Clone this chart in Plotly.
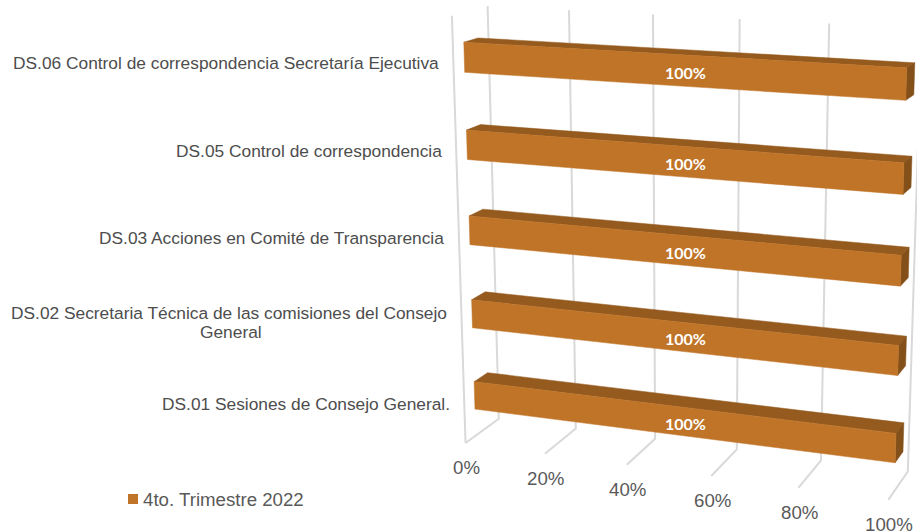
import numpy as np
import plotly.graph_objects as go

# ---- data ----
categories = [
    "DS.01 Sesiones de Consejo General.",
    "DS.02 Secretaria Técnica de las comisiones del Consejo<br>General",
    "DS.03 Acciones en Comité de Transparencia",
    "DS.05 Control de correspondencia",
    "DS.06 Control de correspondencia Secretaría Ejecutiva",
]
values = [100, 100, 100, 100, 100]
ticks = [0, 20, 40, 60, 80, 100]
tick_labels = ["0%", "20%", "40%", "60%", "80%", "100%"]
series_name = "4to. Trimestre 2022"

# ---- style / layout ----
FRONT, TOP, SIDE = "#C07428", "#955A1E", "#84501A"
GRID = "#D9D9D9"
TEXT = "#595959"
LABEL = "#4D4D4D"
FONT = "Liberation Sans"
GAP = 0.33
Z_FRONT, Z_BACK = 0.3, 0.7
LABEL_PITCH = 19       # px between the lines of a wrapped category label
WRAP_HALF_WIDTH = 218  # half the width of a full wrapped first line

# Camera: a single projective map from (percent, category slot, depth) to the page,
# calibrated against where the reference's box and bars sit.
CAMERA = [
    ((0, 0, 0), (465, 443)), ((0, 0, 1), (499, 418)),
    ((100, 0, 0), (888, 500)), ((100, 0, 1), (908, 473)),
    ((0, 5, 1), (487, 6)), ((100, 5, 1), (921, 28)), ((0, 5, 0), (452, 15)),
    ((0, 4.67, .3), (464, 42)), ((0, 4.33, .3), (465, 73.5)),
    ((100, 4.67, .3), (907, 67)), ((100, 4.33, .3), (906, 101.5)),
    ((0, 4.67, .7), (478, 38)), ((100, 4.67, .7), (915, 63)),
    ((0, .67, .3), (474, 382)), ((0, .33, .3), (475, 410)),
    ((100, .67, .3), (896, 432)), ((100, .33, .3), (895, 463)),
    ((0, .67, .7), (488, 372)), ((100, .67, .7), (904, 422)),
]


def fit_camera(pairs):
    A, b = [], []
    for (x, y, z), (u, v) in pairs:
        A.append([x, y, z, 1, 0, 0, 0, 0, -u * x, -u * y, -u * z])
        b.append(u)
        A.append([0, 0, 0, 0, x, y, z, 1, -v * x, -v * y, -v * z])
        b.append(v)
    p = np.linalg.lstsq(np.array(A, float), np.array(b, float), rcond=None)[0]
    return np.append(p, 1).reshape(3, 4)


P = fit_camera(CAMERA)


def project(x, y, z):
    u, v, w = P @ np.array([x, y, z, 1.0])
    return u / w, v / w


def poly(points, color, name=None):
    xy = [project(*p) for p in points]
    xs, ys = zip(*xy)
    return go.Scatter(x=list(xs) + [xs[0]], y=list(ys) + [ys[0]], mode="lines", fill="toself",
                      fillcolor=color, line=dict(color=color, width=0.5), hoverinfo="skip",
                      showlegend=False)


def grid_line(points):
    xs, ys = zip(*[project(*p) for p in points])
    return go.Scatter(x=xs, y=ys, mode="lines", line=dict(color=GRID, width=2),
                      hoverinfo="skip", showlegend=False)


fig = go.Figure()
n = len(categories)

# gridlines: floor + back wall, and the left wall's front edge
for t in ticks:
    fig.add_trace(grid_line([(t, 0, 0), (t, 0, 1), (t, n, 1)]))
fig.add_trace(grid_line([(0, 0, 0), (0, n, 0)]))

# bars
annotations = []
for i, (cat, val) in enumerate(zip(categories, values)):
    y0, y1 = i + GAP, i + 1 - GAP
    fig.add_trace(poly([(0, y1, Z_FRONT), (val, y1, Z_FRONT), (val, y1, Z_BACK), (0, y1, Z_BACK)], TOP))
    fig.add_trace(poly([(val, y0, Z_FRONT), (val, y1, Z_FRONT), (val, y1, Z_BACK), (val, y0, Z_BACK)], SIDE))
    fig.add_trace(poly([(0, y0, Z_FRONT), (val, y0, Z_FRONT), (val, y1, Z_FRONT), (0, y1, Z_FRONT)], FRONT))
    lx, ly = project(val * 0.5, i + 0.5, Z_FRONT)
    annotations.append(dict(x=lx + 9, y=ly + 2.5, text=f"{val}%", showarrow=False, xanchor="center", yanchor="middle",
                            font=dict(family="Lato", size=16, color="white", weight="bold")))
    cx, cy = project(0, i + 0.5, 0)
    right = cx - 12.5
    lines = cat.split("<br>")
    top_y = cy + 2 - (len(lines) - 1) * LABEL_PITCH / 2
    for k, line in enumerate(lines):
        annotations.append(dict(x=right - WRAP_HALF_WIDTH if k else right, y=top_y + k * LABEL_PITCH, text=line,
                                showarrow=False, xanchor="center" if k else "right", yanchor="middle",
                                font=dict(family=FONT, size=17.33, color=LABEL)))

# value-axis labels
for t, lab in zip(ticks, tick_labels):
    tx, ty = project(t, 0, 0)
    annotations.append(dict(x=tx + 1, y=ty + 24.7, text=lab, showarrow=False, xanchor="center", yanchor="middle",
                            font=dict(family=FONT, size=18.67, color=TEXT)))

# legend entry: a swatch plus its text
fig.add_trace(go.Scatter(x=[133], y=[499], mode="markers", marker=dict(symbol="square", size=10, color=FRONT),
                         hoverinfo="skip", showlegend=False))
annotations.append(dict(x=140.5, y=499, text=series_name, showarrow=False, xanchor="left", yanchor="middle",
                        font=dict(family=FONT, size=18.67, color=TEXT)))

fig.update_layout(
    width=917, height=531, margin=dict(l=0, r=0, t=0, b=0),
    paper_bgcolor="white", plot_bgcolor="white",
    xaxis=dict(range=[0, 917], visible=False, fixedrange=True),
    yaxis=dict(range=[531, 0], visible=False, fixedrange=True),
    showlegend=False,
    annotations=annotations,
)
fig.write_html("out.html", config=dict(displayModeBar=False),
               post_script="document.body.style.margin='0';document.body.style.overflow='hidden';")
